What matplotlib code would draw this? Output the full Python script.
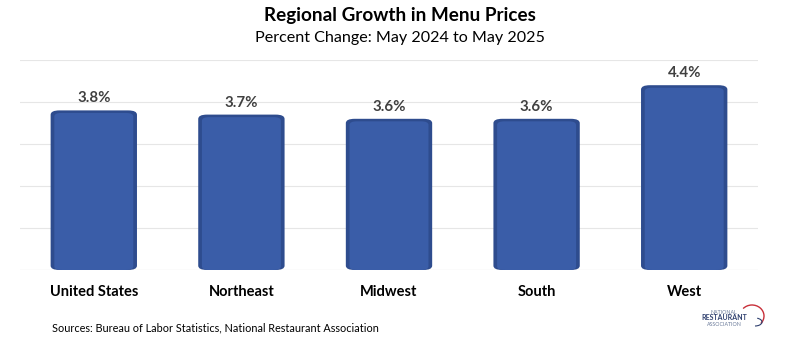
import matplotlib.pyplot as plt
from matplotlib.patches import FancyBboxPatch, Arc

plt.rcParams['font.family'] = ['Lato', 'DejaVu Sans']

regions = ['United States', 'Northeast', 'Midwest', 'South', 'West']
growth = [3.8, 3.7, 3.6, 3.6, 4.4]

fig = plt.figure(figsize=(7.99, 3.42), dpi=100)
ax = fig.add_axes([20/799, 72/342, 738/799, 210/342])

bars = ax.bar(range(len(regions)), growth, width=0.585, color='none')

# rounded bars with darker rim
for b in bars:
    x, y, w, h = b.get_x(), b.get_y(), b.get_width(), b.get_height()
    ax.add_patch(FancyBboxPatch((x, y), w, h, boxstyle='round,pad=0,rounding_size=0.06',
                                mutation_aspect=1.7, facecolor='#2E4C8E', edgecolor='none', zorder=2))
    ax.add_patch(FancyBboxPatch((x + 0.025, y), w - 0.05, h - 0.06, boxstyle='round,pad=0,rounding_size=0.05',
                                mutation_aspect=1.7, facecolor='#3A5DA8', edgecolor='none', zorder=3))
    ax.text(x + w/2, h + 0.12, f'{h:.1f}%', ha='center', va='bottom', fontsize=10.8,
            fontweight='bold', color='#404040')

ax.set_xlim(-0.5, len(regions) - 0.5)
ax.set_ylim(0, 5)
ax.set_yticks(range(0, 6))
ax.grid(axis='y', color='#E6E6E6', linewidth=0.8)
ax.set_axisbelow(True)
ax.tick_params(left=False, bottom=False, labelleft=False)
ax.set_xticks(range(len(regions)))
ax.set_xticklabels(regions, fontsize=10.5, fontweight='bold')
ax.tick_params(axis='x', pad=7.5)
for s in ax.spines.values():
    s.set_visible(False)
ax.axhline(0, color='#D9D9D9', linewidth=0.8)

fig.text(0.5, 1 - 15/342, 'Regional Growth in Menu Prices', ha='center', va='center',
         fontsize=13.6, fontweight='bold')
fig.text(0.5, 1 - 38/342, 'Percent Change: May 2024 to May 2025', ha='center', va='center',
         fontsize=11.6)
fig.text(52/799, 1 - 328/342, 'Sources: Bureau of Labor Statistics, National Restaurant Association',
         ha='left', va='center', fontsize=7.8)

# association mark
fig.text(724/799, 1 - 312/342, 'NATIONAL', ha='center', va='center', fontsize=3.8, color='#6A7A9A')
fig.text(724/799, 1 - 318/342, 'RESTAURANT', ha='center', va='center', fontsize=5, fontweight='bold', color='#2E3F6E')
fig.text(724/799, 1 - 324/342, 'ASSOCIATION', ha='center', va='center', fontsize=3.8, color='#6A7A9A')
lax = fig.add_axes([700/799, 10/342, 70/799, 30/342])
lax.set_xlim(0, 70)
lax.set_ylim(0, 30)
lax.axis('off')
lax.add_patch(Arc((52, 16), 24, 22, theta1=-40, theta2=140, color='#C8303A', lw=1))
lax.add_patch(Arc((55, 10), 14, 8, theta1=-90, theta2=60, color='#2E3F6E', lw=0.8))

fig.savefig('out.png', dpi=100)
